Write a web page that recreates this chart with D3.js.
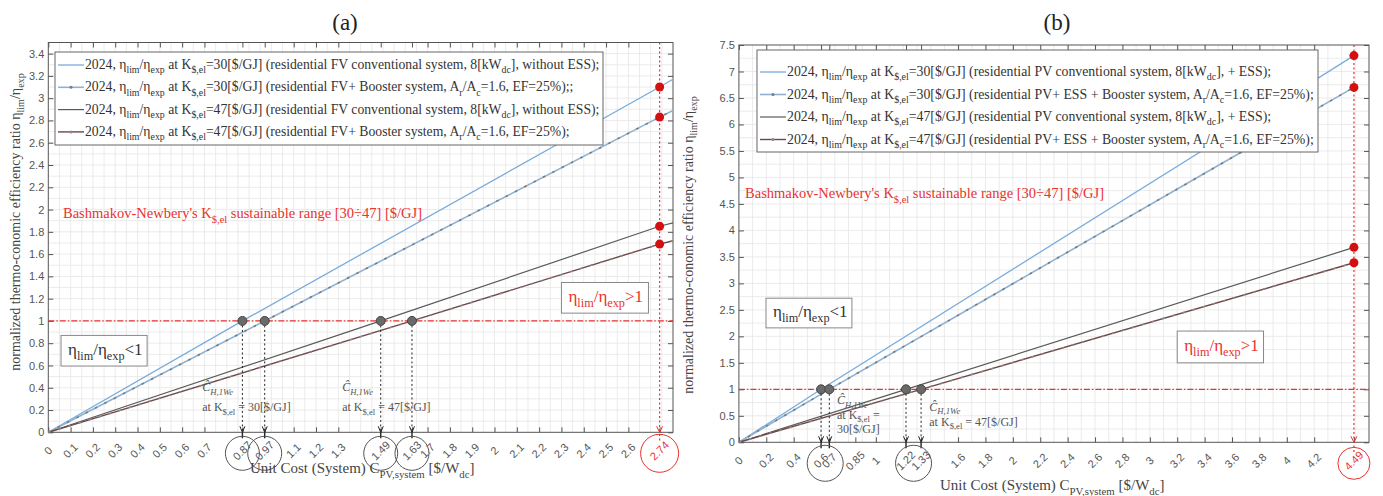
<!DOCTYPE html>
<html>
<head>
<meta charset="utf-8">
<script src="https://cdn.jsdelivr.net/npm/d3@7"></script>
<style>
  body { margin: 0; background: #fff; }
  svg { font-family: "Liberation Serif", "Times New Roman", serif; }
</style>
</head>
<body>
<svg id="chart" width="1383" height="496"></svg>
<script>
// ===========================
// Thermo-economic efficiency ratio vs unit system cost
// Two panels: (a) without ESS, (b) with ESS
// ===========================

// ---- panel (a) data ----
const xTicksA = [0, 0.1, 0.2, 0.3, 0.4, 0.5, 0.6, 0.7, 0.87, 0.97, 1.1, 1.2, 1.3, 1.49, 1.63, 1.7, 1.8, 1.9, 2, 2.1, 2.2, 2.3, 2.4, 2.5, 2.6, 2.74];
const xLabelsA = ['0', '0.1', '0.2', '0.3', '0.4', '0.5', '0.6', '0.7', '0.87', '0.97', '1.1', '1.2', '1.3', '1.49', '1.63', '1.7', '1.8', '1.9', '2', '2.1', '2.2', '2.3', '2.4', '2.5', '2.6', '2.74'];
const yTicksA = [0, 0.2, 0.4, 0.6, 0.8, 1, 1.2, 1.4, 1.6, 1.8, 2, 2.2, 2.4, 2.6, 2.8, 3, 3.2, 3.4];
const a_k30conv = [[0, 0], [0.87, 1], [2.74, 3.10], [2.8, 3.17]];
const a_k30boost = [[0, 0], [0.97, 1], [2.74, 2.83], [2.8, 2.89]];
const a_k47conv = [[0, 0], [1.49, 1], [2.74, 1.85], [2.8, 1.88]];
const a_k47boost = [[0, 0], [1.63, 1], [2.74, 1.69], [2.8, 1.72]];
const crossingsA = [0.87, 0.97, 1.49, 1.63];
const limitA = 2.74;
const endValuesA = [3.10, 2.83, 1.85, 1.69];
const legendA = [
  '2024, η_{lim}/η_{exp} at K_{$,el}=30[$/GJ] (residential FV conventional system, 8[kW_{dc}], without ESS);',
  '2024, η_{lim}/η_{exp} at K_{$,el}=30[$/GJ] (residential FV+ Booster system, A_{r}/A_{c}=1.6, EF=25%);;',
  '2024, η_{lim}/η_{exp} at K_{$,el}=47[$/GJ] (residential FV conventional system, 8[kW_{dc}], without ESS);',
  '2024, η_{lim}/η_{exp} at K_{$,el}=47[$/GJ] (residential FV+ Booster system, A_{r}/A_{c}=1.6, EF=25%);'
];

// ---- panel (b) data ----
const xTicksB = [0, 0.2, 0.4, 0.6, 0.66, 0.85, 1, 1.22, 1.33, 1.6, 1.8, 2, 2.2, 2.4, 2.6, 2.8, 3, 3.2, 3.4, 3.6, 3.8, 4, 4.2, 4.49];
const xLabelsB = ['0', '0.2', '0.4', '0.6', '0.7', '0.85', '1', '1.22', '1.33', '1.6', '1.8', '2', '2.2', '2.4', '2.6', '2.8', '3', '3.2', '3.4', '3.6', '3.8', '4', '4.2', '4.49'];
const yTicksB = [0, 0.5, 1, 1.5, 2, 2.5, 3, 3.5, 4, 4.5, 5, 5.5, 6, 6.5, 7, 7.5];
const b_k30conv = [[0, 0], [0.6, 1], [4.49, 7.30]];
const b_k30boost = [[0, 0], [0.66, 1], [4.49, 6.70]];
const b_k47conv = [[0, 0], [1.22, 1], [4.49, 3.68]];
const b_k47boost = [[0, 0], [1.33, 1], [4.49, 3.39]];
const crossingsB = [0.6, 0.66, 1.22, 1.33];
const limitB = 4.49;
const endValuesB = [7.30, 6.70, 3.68, 3.39];
const legendB = [
  '2024, η_{lim}/η_{exp} at K_{$,el}=30[$/GJ] (residential PV conventional system, 8[kW_{dc}], + ESS);',
  '2024, η_{lim}/η_{exp} at K_{$,el}=30[$/GJ] (residential PV+ ESS + Booster system, A_{r}/A_{c}=1.6, EF=25%);',
  '2024, η_{lim}/η_{exp} at K_{$,el}=47[$/GJ] (residential PV conventional system, 8[kW_{dc}], + ESS);',
  '2024, η_{lim}/η_{exp} at K_{$,el}=47[$/GJ] (residential PV+ ESS + Booster system, A_{r}/A_{c}=1.6, EF=25%);'
];

// ---- styles ----
const RED = '#e8322e';
const styles = [
  { stroke: '#79acdb', width: 1.3, overlay: null },
  { stroke: '#8db2d4', width: 1.6, overlay: '#7b7b7b' },
  { stroke: '#5a5a5a', width: 1.2, overlay: null },
  { stroke: '#6e4646', width: 1.4, overlay: '#8a8a8a' }
];

const svg = d3.select('#chart');

// text with _{sub} and ^{sup} markup
function rich(sel, str, size) {
  const re = /([_^])\{([^}]*)\}/g;
  let last = 0, shift = 0, m;
  const add = (t, lvl) => {
    const target = lvl * size * 0.32;
    sel.append('tspan')
      .attr('dy', target - shift)
      .style('font-size', (lvl ? size * 0.72 : size) + 'px')
      .text(t);
    shift = target;
  };
  while ((m = re.exec(str))) {
    if (m.index > last) add(str.slice(last, m.index), 0);
    add(m[2], m[1] === '_' ? 1 : -1);
    last = re.lastIndex;
  }
  if (last < str.length) add(str.slice(last), 0);
  if (shift) sel.append('tspan').attr('dy', -shift).text('');
  return sel;
}

function drawPanel(p) {
  const x = d3.scaleLinear().domain(p.xDomain).range([p.left, p.right]);
  const y = d3.scaleLinear().domain(p.yDomain).range([p.bottom, p.top]);
  const g = svg.append('g');

  // grid
  const grid = g.append('g').attr('stroke', '#e6e6e6').attr('stroke-width', 0.8);
  grid.selectAll('.gx').data(d3.range(p.xDomain[0] + p.gridX, p.xDomain[1], p.gridX))
    .join('line')
    .attr('x1', d => x(d)).attr('x2', d => x(d))
    .attr('y1', p.top).attr('y2', p.bottom);
  grid.selectAll('.gy').data(d3.range(p.yDomain[0] + p.gridY, p.yDomain[1], p.gridY))
    .join('line')
    .attr('y1', d => y(d)).attr('y2', d => y(d))
    .attr('x1', p.left).attr('x2', p.right);

  // frame
  g.append('rect')
    .attr('x', p.left).attr('y', p.top)
    .attr('width', p.right - p.left).attr('height', p.bottom - p.top)
    .attr('fill', 'none').attr('stroke', '#555').attr('stroke-width', 1);

  // axes
  const styleAxis = a => {
    a.select('.domain').remove();
    a.selectAll('line').attr('stroke', '#555');
    a.selectAll('text').attr('fill', '#555').style('font-size', '11px').style('font-family', 'inherit');
  };
  const labelOf = d => p.xLabels[p.xTicks.indexOf(d)];
  g.append('g')
    .attr('transform', `translate(0,${p.bottom})`)
    .call(d3.axisBottom(x).tickValues(p.xTicks).tickFormat(labelOf).tickSize(-5).tickPadding(0))
    .call(styleAxis)
    .call(a => a.selectAll('text')
      .attr('y', 0).attr('dy', 0)
      .attr('text-anchor', 'middle')
      .attr('dominant-baseline', 'middle')
      .attr('transform', 'translate(0,19) rotate(-45)')
      .attr('fill', d => d === p.limit ? RED : '#555'));
  g.append('g')
    .attr('transform', `translate(0,${p.top})`)
    .call(d3.axisTop(x).tickValues(p.xTicks.filter(d => d !== p.limit)).tickFormat('').tickSize(-5))
    .call(styleAxis);
  g.append('g')
    .attr('transform', `translate(${p.left},0)`)
    .call(d3.axisLeft(y).tickValues(p.yTicks).tickFormat(d3.format('')).tickSize(-5).tickPadding(4))
    .call(styleAxis);
  g.append('g')
    .attr('transform', `translate(${p.right},0)`)
    .call(d3.axisRight(y).tickValues(p.yTicks).tickFormat('').tickSize(-5))
    .call(styleAxis);

  // red reference lines
  g.append('line')
    .attr('x1', p.left).attr('x2', p.right)
    .attr('y1', y(1)).attr('y2', y(1))
    .attr('stroke', RED).attr('stroke-width', 1.3).attr('stroke-dasharray', '6,2,1.5,2');
  g.append('line')
    .attr('x1', x(p.limit)).attr('x2', x(p.limit))
    .attr('y1', p.top).attr('y2', p.bottom + 10)
    .attr('stroke', RED).attr('stroke-width', 1.2).attr('stroke-dasharray', '2,2.5');
  g.append('path')
    .attr('d', `M${x(p.limit) - 3},${p.bottom - 6}L${x(p.limit)},${p.bottom}L${x(p.limit) + 3},${p.bottom - 6}`)
    .attr('fill', 'none').attr('stroke', RED).attr('stroke-width', 1);

  // series
  const line = d3.line().x(d => x(d[0])).y(d => y(d[1]));
  p.series.forEach((s, i) => {
    const st = styles[i];
    g.append('path').attr('d', line(s)).attr('fill', 'none')
      .attr('stroke', st.stroke).attr('stroke-width', st.width);
    if (st.overlay) {
      g.append('path').attr('d', line(s)).attr('fill', 'none')
        .attr('stroke', st.overlay).attr('stroke-width', 1.6).attr('stroke-dasharray', '2.5,8');
    }
  });

  // drop lines from crossings to axis
  p.crossings.forEach(c => {
    g.append('line')
      .attr('x1', x(c)).attr('x2', x(c))
      .attr('y1', y(1)).attr('y2', p.bottom)
      .attr('stroke', '#222').attr('stroke-width', 1).attr('stroke-dasharray', '2,2.5');
    g.append('path')
      .attr('d', `M${x(c) - 2.5},${p.bottom - 6}L${x(c)},${p.bottom}L${x(c) + 2.5},${p.bottom - 6}`)
      .attr('fill', 'none').attr('stroke', '#222').attr('stroke-width', 1);
    g.append('line')
      .attr('x1', x(c)).attr('x2', x(c))
      .attr('y1', p.bottom).attr('y2', p.bottom + 6)
      .attr('stroke', '#222').attr('stroke-width', 1.4);
  });

  // crossing points and end points
  g.selectAll('.cross').data(p.crossings).join('circle')
    .attr('cx', d => x(d)).attr('cy', y(1)).attr('r', 4.5)
    .attr('fill', '#6a6a6a').attr('stroke', '#444').attr('stroke-width', 1);
  g.selectAll('.end').data(p.endValues).join('circle')
    .attr('cx', x(p.limit)).attr('cy', d => y(d)).attr('r', 4.5)
    .attr('fill', '#d40f0f');

  // circles around tick labels
  p.labelCircles.forEach(c => {
    g.append('ellipse')
      .attr('cx', x(c.v)).attr('cy', p.bottom + 21)
      .attr('rx', c.r).attr('ry', c.r)
      .attr('fill', 'none').attr('stroke', c.red ? RED : '#555').attr('stroke-width', 1);
  });

  // legend
  const lg = p.legend;
  g.append('rect')
    .attr('x', lg.x).attr('y', lg.y).attr('width', lg.w).attr('height', lg.h)
    .attr('fill', '#fff').attr('stroke', '#666').attr('stroke-width', 1);
  p.legendText.forEach((t, i) => {
    const cy = lg.y + lg.row0 + i * lg.step;
    const st = styles[i];
    g.append('line')
      .attr('x1', lg.x + 3).attr('x2', lg.x + 3 + lg.sample)
      .attr('y1', cy).attr('y2', cy)
      .attr('stroke', st.stroke).attr('stroke-width', st.width);
    if (st.overlay) {
      g.append('circle').attr('cx', lg.x + 3 + lg.sample / 2).attr('cy', cy).attr('r', 1.5).attr('fill', st.overlay);
    }
    rich(g.append('text')
      .attr('x', lg.x + 4 + lg.sample).attr('y', cy + 4)
      .attr('fill', '#333').style('font-size', lg.font + 'px'), t, lg.font);
  });

  // sustainable range caption
  rich(g.append('text')
    .attr('x', x(p.caption[0])).attr('y', y(p.caption[1]))
    .attr('fill', RED).style('font-size', '14.5px'),
    "Bashmakov-Newbery's K_{$,el} sustainable range [30÷47] [$/GJ]", 14.5);

  // ratio boxes
  const box = (b, color, txt) => {
    g.append('rect')
      .attr('x', x(b[0])).attr('y', y(b[1]))
      .attr('width', x(b[2]) - x(b[0])).attr('height', y(b[3]) - y(b[1]))
      .attr('fill', '#fff').attr('stroke', '#888').attr('stroke-width', 1);
    rich(g.append('text')
      .attr('x', x(b[0]) + 7).attr('y', (y(b[1]) + y(b[3])) / 2 + 4)
      .attr('fill', color).style('font-size', '17px'), txt, 17);
  };
  box(p.boxLow, '#333', 'η_{lim}/η_{exp}<1');
  box(p.boxHigh, RED, 'η_{lim}/η_{exp}>1');

  // crossing annotations
  p.notes.forEach(n => {
    n.lines.forEach((t, j) => {
      rich(g.append('text')
        .attr('x', x(n.x)).attr('y', y(n.y) + j * n.step)
        .attr('fill', '#555').style('font-size', '12px')
        .style('font-style', j === 0 ? 'italic' : 'normal'), t, 12);
    });
  });

  // axis titles
  rich(g.append('text')
    .attr('x', p.xTitle[0]).attr('y', p.xTitle[1])
    .attr('fill', '#444').style('font-size', '15px'),
    'Unit Cost (System)  C_{PV,system}  [$/W_{dc}]', 15);
  rich(g.append('text')
    .attr('transform', `translate(${p.yTitle[0]},${p.yTitle[1]}) rotate(-90)`)
    .attr('text-anchor', 'middle')
    .attr('fill', '#444').style('font-size', '14px'),
    'normalized thermo-conomic efficiency ratio η_{lim}/η_{exp}', 14);

  // panel title
  g.append('text')
    .attr('x', p.title[0]).attr('y', p.title[1])
    .attr('text-anchor', 'middle')
    .attr('fill', '#222').style('font-size', '23px')
    .text(p.title[2]);
}

drawPanel({
  left: 48.3, right: 673, top: 42.5, bottom: 432.3,
  xDomain: [0, 2.8], yDomain: [0, 3.5], gridX: 0.05, gridY: 0.1,
  xTicks: xTicksA, xLabels: xLabelsA, yTicks: yTicksA,
  series: [a_k30conv, a_k30boost, a_k47conv, a_k47boost],
  crossings: crossingsA, limit: limitA, endValues: endValuesA,
  labelCircles: [{ v: 0.87, r: 17 }, { v: 0.97, r: 17 }, { v: 1.49, r: 17 }, { v: 1.63, r: 17 }, { v: 2.74, r: 19, red: true }],
  legend: { x: 55, y: 52, w: 548, h: 93, row0: 13, step: 22.3, sample: 26, font: 13.7 },
  legendText: legendA,
  caption: [0.066, 1.92],
  boxLow: [0.057, 0.87, 0.443, 0.595],
  boxHigh: [2.30, 1.345, 2.69, 1.07],
  notes: [
    { x: 0.69, y: 0.37, step: 20, lines: ['Ĉ_{H,1We}', 'at K_{$,el} = 30[$/GJ]'] },
    { x: 1.317, y: 0.37, step: 20, lines: ['Ĉ_{H,1We}', 'at K_{$,el} = 47[$/GJ]'] }
  ],
  xTitle: [250, 473], yTitle: [20, 222], title: [345, 30, '(a)']
});

drawPanel({
  left: 738.9, right: 1369, top: 45, bottom: 442.3,
  xDomain: [0, 4.6], yDomain: [0, 7.5], gridX: 0.1, gridY: 0.25,
  xTicks: xTicksB, xLabels: xLabelsB, yTicks: yTicksB,
  series: [b_k30conv, b_k30boost, b_k47conv, b_k47boost],
  crossings: crossingsB, limit: limitB, endValues: endValuesB,
  labelCircles: [{ v: 0.63, r: 18 }, { v: 1.275, r: 18 }, { v: 4.49, r: 16, red: true }],
  legend: { x: 757, y: 50, w: 561, h: 102, row0: 22, step: 22.5, sample: 26, font: 13.8 },
  legendText: legendB,
  caption: [0.045, 4.61],
  boxLow: [0.198, 2.72, 0.825, 2.16],
  boxHigh: [3.20, 2.10, 3.83, 1.50],
  notes: [
    { x: 0.716, y: 0.72, step: 14.5, lines: ['Ĉ_{H,1We}', 'at K_{$,el} =', '30[$/GJ]'] },
    { x: 1.39, y: 0.6, step: 15, lines: ['Ĉ_{H,1We}', 'at K_{$,el} = 47[$/GJ]'] }
  ],
  xTitle: [940, 490], yTitle: [693, 245], title: [1057, 30, '(b)']
});
</script>
</body>
</html>
